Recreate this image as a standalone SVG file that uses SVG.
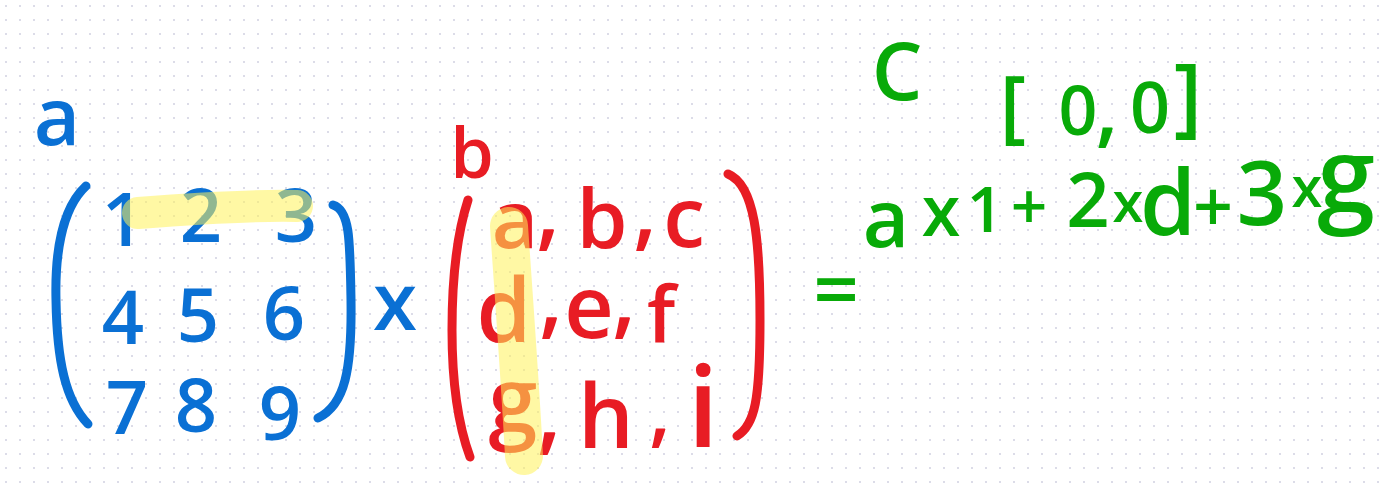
<svg xmlns="http://www.w3.org/2000/svg" width="1387" height="488" viewBox="0 0 1387 488">
<style>
text{font-family:"Open Sans","Noto Sans","Liberation Sans",sans-serif;font-weight:600;text-anchor:middle}
.blue{fill:#0a70d4}
.red{fill:#e81c24}
.green{fill:#08aa08}
.br{fill:none;stroke-width:9;stroke-linecap:round;stroke-linejoin:round}
.hl{fill:none;stroke:#fff35a;stroke-opacity:0.55;stroke-linecap:round}
</style>
<defs>
<pattern id="dots" x="0" y="0" width="14" height="14" patternUnits="userSpaceOnUse">
<rect x="5" y="5" width="2" height="2" fill="#dcdce8"/>
</pattern>
</defs>
<rect width="1387" height="488" fill="#ffffff"/>
<rect width="1387" height="488" fill="url(#dots)"/>

<g id="matrix-a">
<text class="blue" x="57" y="145" font-size="80">a</text>
<path class="br" stroke="#0a70d4" d="M86,186 C60,210 55,260 56,300 C57,360 65,400 88,424"/>
<path class="br" stroke="#0a70d4" d="M333,205 C350,210 350,240 351,300 C352,370 345,405 318,418"/>
<text class="blue" font-size="74"><tspan x="123" y="246">1</tspan><tspan x="201" y="242">2</tspan><tspan x="296" y="242">3</tspan></text>
<text class="blue" font-size="74"><tspan x="123" y="344">4</tspan><tspan x="198" y="342">5</tspan><tspan x="284" y="340">6</tspan></text>
<text class="blue" font-size="74"><tspan x="127" y="434">7</tspan><tspan x="196" y="432">8</tspan><tspan x="280" y="440">9</tspan></text>
<path class="hl" stroke-width="32" d="M138,213 C190,209 250,205 297,206"/>
</g>

<g id="times">
<text class="blue" x="395" y="330" font-size="80">x</text>
</g>

<g id="matrix-b">
<text class="red" x="472" y="178" font-size="70">b</text>
<path class="br" stroke="#e81c24" d="M468,200 C455,240 452,290 452,330 C452,390 460,430 470,457"/>
<path class="br" stroke="#e81c24" d="M728,174 C755,185 760,240 760,320 C760,400 755,425 737,436"/>
<text class="red"><tspan x="515" y="248" font-size="80">a</tspan><tspan x="548" y="240" font-size="88">,</tspan><tspan x="602" y="248" font-size="82">b</tspan><tspan x="645" y="240" font-size="88">,</tspan><tspan x="684" y="247" font-size="84">c</tspan></text>
<text class="red"><tspan x="504" y="342" font-size="88">d</tspan><tspan x="551" y="328" font-size="88">,</tspan><tspan x="589" y="338" font-size="86">e</tspan><tspan x="624" y="328" font-size="88">,</tspan><tspan x="661" y="342" font-size="78">f</tspan></text>
<text class="red"><tspan x="513" y="432" font-size="88">g</tspan><tspan x="549" y="443" font-size="92">,</tspan><tspan x="606" y="448" font-size="88">h</tspan><tspan x="660" y="438" font-size="80">,</tspan><tspan x="703" y="447" font-size="112">i</tspan></text>
<path class="hl" stroke-width="38" d="M509,226 C514,300 520,380 524,456"/>
</g>

<g id="equals">
<text class="green" x="836" y="318" font-size="80">=</text>
</g>

<g id="result-c">
<text class="green" x="897" y="100" font-size="80">C</text>
<text class="green"><tspan x="1013" y="133" font-size="80">[</tspan><tspan x="1078" y="135" font-size="68">0</tspan><tspan x="1107" y="137" font-size="84">,</tspan><tspan x="1150" y="133" font-size="70">0</tspan><tspan x="1188" y="126" font-size="86">]</tspan></text>
<text class="green"><tspan x="886" y="247" font-size="80">a</tspan><tspan x="941" y="236" font-size="70">x</tspan><tspan x="985" y="232" font-size="64">1</tspan><tspan x="1029" y="229" font-size="64">+</tspan><tspan x="1088" y="227" font-size="76">2</tspan><tspan x="1128" y="222" font-size="56">x</tspan><tspan x="1168" y="235" font-size="90">d</tspan><tspan x="1213" y="232" font-size="70">+</tspan><tspan x="1262" y="225" font-size="88">3</tspan><tspan x="1307" y="207" font-size="56">x</tspan><tspan x="1346" y="212" font-size="104">g</tspan></text>
</g>
</svg>
